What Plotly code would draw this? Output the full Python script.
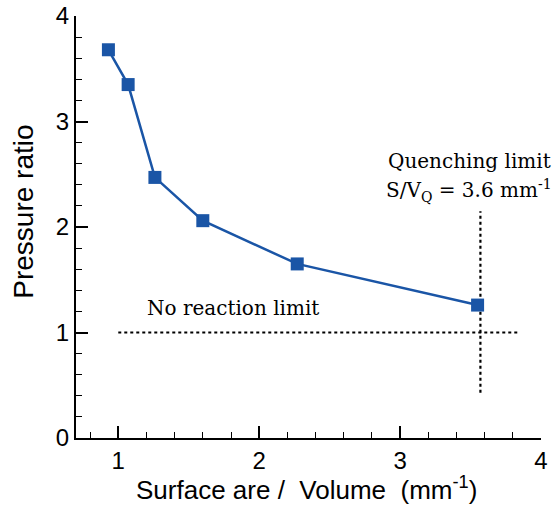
import plotly.graph_objects as go

sv_ratio = [0.93, 1.07, 1.26, 1.60, 2.27, 3.55]
pressure_ratio = [3.68, 3.35, 2.47, 2.06, 1.65, 1.26]

no_reaction_x = [1.0, 3.85]
no_reaction_y = [1.0, 1.0]
quench_x = [3.57, 3.57]
quench_y = [0.43, 2.15]

x_ticks = [1, 2, 3, 4]
y_ticks = [0, 1, 2, 3, 4]

blue = "#1a55a6"

fig = go.Figure()
fig.add_trace(go.Scatter(x=no_reaction_x, y=no_reaction_y, mode="lines",
                         line=dict(color="black", width=2.2, dash="dot"),
                         showlegend=False, hoverinfo="skip"))
fig.add_trace(go.Scatter(x=quench_x, y=quench_y, mode="lines",
                         line=dict(color="black", width=2.2, dash="dot"),
                         showlegend=False, hoverinfo="skip"))
fig.add_trace(go.Scatter(x=sv_ratio, y=pressure_ratio, mode="lines+markers",
                         line=dict(color=blue, width=2.5),
                         marker=dict(symbol="square", size=13, color=blue),
                         showlegend=False))

serif = dict(family="DejaVu Serif", size=20, color="black")
fig.add_annotation(x=1.19, y=1.23, text="No reaction limit", showarrow=False,
                   xanchor="left", yanchor="middle", font=serif)
fig.add_annotation(x=3.49, y=2.63, text="Quenching limit", showarrow=False,
                   xanchor="center", yanchor="middle", font=serif)
fig.add_annotation(x=3.49, y=2.35, text="S/V<sub>Q</sub> = 3.6 mm<sup>-1</sup>",
                   showarrow=False, xanchor="center", yanchor="middle", font=serif)

axis_font = dict(family="Liberation Sans, Arial", size=24, color="black")

fig.add_annotation(xref="paper", yref="paper", x=0.495, y=-0.12,
                   text="Surface are /  Volume  (mm<sup>-1</sup>)", showarrow=False,
                   xanchor="center", yanchor="middle",
                   font=dict(family="Liberation Sans, Arial", size=26, color="black"))
fig.add_annotation(xref="paper", yref="paper", x=-0.112, y=0.536,
                   text="Pressure ratio", showarrow=False, textangle=-90,
                   xanchor="center", yanchor="middle",
                   font=dict(family="Liberation Sans, Arial", size=28, color="black"))

fig.update_layout(
    width=553, height=506,
    margin=dict(l=76, r=12, t=16, b=68),
    paper_bgcolor="white", plot_bgcolor="white",
    xaxis=dict(range=[0.7, 4.0], tickvals=x_ticks, ticks="inside", ticklen=12,
               tickwidth=1.5, tickcolor="black", showline=True, linecolor="black",
               linewidth=2, showgrid=False, zeroline=False, tickfont=axis_font,
               automargin=False, ticklabelstandoff=0,
               minor=dict(dtick=0.2, ticks="inside", ticklen=6, tickwidth=1.2,
                          tickcolor="black", showgrid=False)),
    yaxis=dict(range=[0, 4.0], tickvals=y_ticks, ticks="inside", ticklen=12,
               tickwidth=1.5, tickcolor="black", showline=True, linecolor="black",
               linewidth=2, showgrid=False, zeroline=False, tickfont=axis_font,
               automargin=False,
               minor=dict(dtick=0.2, ticks="inside", ticklen=6, tickwidth=1.2,
                          tickcolor="black", showgrid=False)),
)

fig.write_html("out.html")
